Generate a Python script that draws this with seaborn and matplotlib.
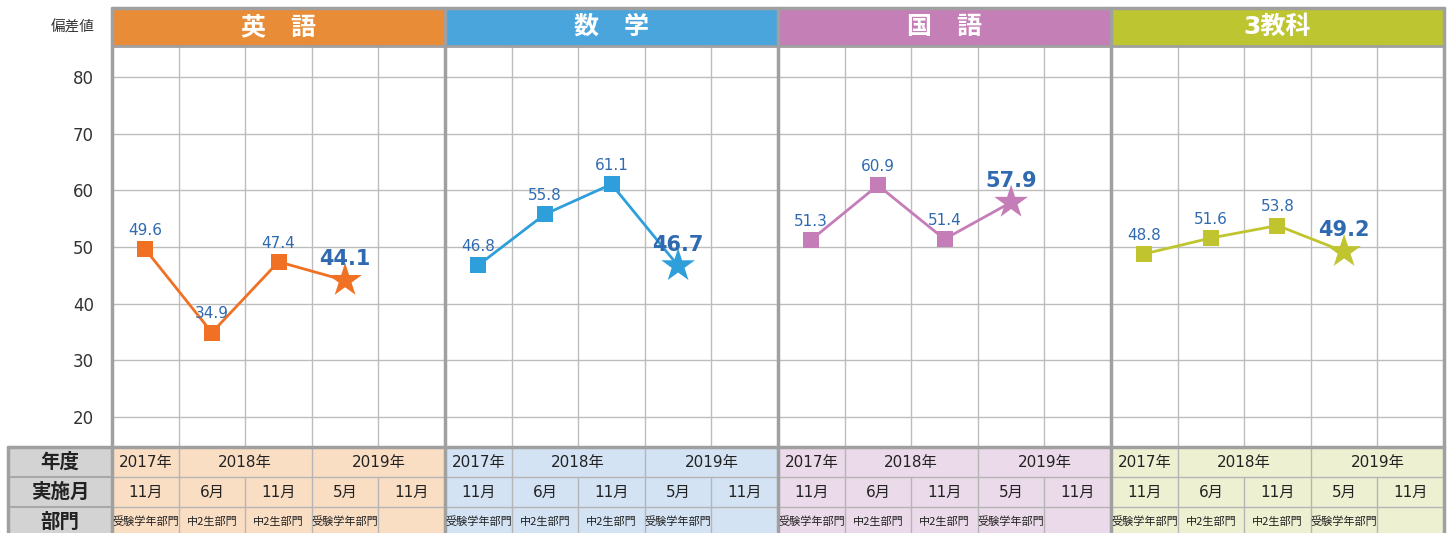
import numpy as np
import pandas as pd
import seaborn as sns
import matplotlib.pyplot as plt
from matplotlib.patches import Rectangle

# data
subjects = ['英　語', '数　学', '国　語', '3教科']
scores = {
    '英　語': [49.6, 34.9, 47.4, 44.1],
    '数　学': [46.8, 55.8, 61.1, 46.7],
    '国　語': [51.3, 60.9, 51.4, 57.9],
    '3教科': [48.8, 51.6, 53.8, 49.2],
}
years = [('2017年', 0, 1), ('2018年', 1, 3), ('2019年', 3, 5)]
months = ['11月', '6月', '11月', '5月', '11月']
divisions = ['受験学年部門', '中2生部門', '中2生部門', '受験学年部門', '']
row_labels = ['年度', '実施月', '部門']
yticks = [20, 30, 40, 50, 60, 70, 80]

header_colors = ['#E98C37', '#4BA5DD', '#C47FB6', '#BDC530']
line_colors = ['#F07124', '#2E9FDB', '#C57DB8', '#BFC42F']
table_colors = ['#FADEC4', '#D3E3F3', '#EBDAEA', '#EEF0D2']
label_color = '#2F6AB0'

sns.set_style('white')
plt.rcParams['font.family'] = ['DejaVu Sans', 'Noto Sans CJK JP']

W, H = 1456, 533
fig = plt.figure(figsize=(W / 100, H / 100), dpi=100)


def px_axes(x, y, w, h, **kw):
    return fig.add_axes([x / W, 1 - (y + h) / H, w / W, h / H], **kw)


x0, pw = 112, 333
top, hdr_h, plot_bot = 8, 38, 447
colw = pw / 5
row_h = 30

# overlay for headers and table (pixel coordinates)
ov = px_axes(0, 0, W, H, zorder=5)
ov.set_xlim(0, W)
ov.set_ylim(H, 0)
ov.axis('off')
ov.patch.set_alpha(0)

for i, subj in enumerate(subjects):
    px = x0 + i * pw
    ax = px_axes(px, top + hdr_h, pw, plot_bot - top - hdr_h)
    vals = scores[subj]
    df = pd.DataFrame({'x': [0, 1, 2], 'y': vals[:3]})
    sns.lineplot(data=df, x='x', y='y', ax=ax, color=line_colors[i], lw=2,
                 marker='s', markersize=11, markeredgewidth=0, zorder=3)
    ax.plot([2, 3], vals[2:4], color=line_colors[i], lw=2, zorder=3)
    ax.scatter([3], [vals[3]], marker='*', s=650, color=line_colors[i],
               edgecolor='none', zorder=4)
    for k in range(3):
        ax.annotate(f'{vals[k]}', (k, vals[k]), xytext=(0, 8),
                    textcoords='offset points', ha='center', va='bottom',
                    fontsize=11, color=label_color, zorder=5)
    ax.annotate(f'{vals[3]}', (3, vals[3]), xytext=(0, 8),
                textcoords='offset points', ha='center', va='bottom',
                fontsize=15, fontweight='bold', color=label_color, zorder=5)
    ax.set_xlim(-0.5, 4.5)
    ax.set_ylim(14.7, 85.5)
    ax.set_xticks([0.5, 1.5, 2.5, 3.5])
    ax.set_yticks(yticks)
    ax.grid(True, color='#BDBDBD', lw=1)
    ax.tick_params(length=0)
    ax.set_xticklabels([])
    ax.set_xlabel('')
    ax.set_ylabel('')
    if i == 0:
        ax.set_yticklabels([str(t) for t in yticks], fontsize=12, color='#333333')
        ax.tick_params(axis='y', pad=13)
    else:
        ax.set_yticklabels([])
    for s in ax.spines.values():
        s.set_visible(False)

    # header
    ov.add_patch(Rectangle((px, top), pw, hdr_h, color=header_colors[i]))
    ov.text(px + pw / 2, top + hdr_h / 2, subj, ha='center', va='center',
            fontsize=18, fontweight='bold', color='white')

    # table
    ty = plot_bot
    ov.add_patch(Rectangle((px, ty), pw, H - ty + 5, color=table_colors[i], lw=0))
    for label, a, b in years:
        ov.text(px + (a + b) / 2 * colw, ty + row_h / 2, label, ha='center',
                va='center', fontsize=11, color='#222222')
        if a > 0:
            ov.plot([px + a * colw] * 2, [ty, ty + row_h], color='#B5B5B5', lw=1)
    for k in range(5):
        cx = px + (k + 0.5) * colw
        ov.text(cx, ty + row_h * 1.5, months[k], ha='center', va='center',
                fontsize=11, color='#222222')
        ov.text(cx, ty + row_h * 2.5, divisions[k], ha='center', va='center',
                fontsize=8, color='#222222', family=['Noto Sans CJK JP'])
        if k > 0:
            ov.plot([px + k * colw] * 2, [ty + row_h, H + 5], color='#B5B5B5', lw=1)
    for r in (1, 2):
        ov.plot([px, px + pw], [ty + r * row_h] * 2, color='#B5B5B5', lw=1)

# row label column
ov.add_patch(Rectangle((8, plot_bot), x0 - 8, H - plot_bot + 5, color='#D3D3D3', lw=0))
for r, lab in enumerate(row_labels):
    ov.text((8 + x0) / 2, plot_bot + (r + 0.5) * row_h, lab, ha='center',
            va='center', fontsize=14, fontweight='bold', color='#222222',
            family=['Noto Sans CJK JP'])
    if r > 0:
        ov.plot([8, x0], [plot_bot + r * row_h] * 2, color='#A8A8A8', lw=1.5)
ov.plot([8, 8], [plot_bot, H + 5], color='#A0A0A0', lw=2.5)
ov.plot([8, x0 + 4 * pw], [plot_bot, plot_bot], color='#A0A0A0', lw=2.5)

# outer and panel borders
for i in range(5):
    bx = x0 + i * pw
    ov.plot([bx, bx], [top, H + 5], color='#A0A0A0', lw=2.5)
ov.plot([x0, x0 + 4 * pw], [top, top], color='#A0A0A0', lw=2.5)
ov.plot([x0, x0 + 4 * pw], [top + hdr_h, top + hdr_h], color='#A0A0A0', lw=2)

ov.text(95, 28, '偏差値', ha='right', va='center', fontsize=10.5, color='#333333',
        family=['Noto Sans CJK JP'])

fig.savefig('out.png', dpi=100)
